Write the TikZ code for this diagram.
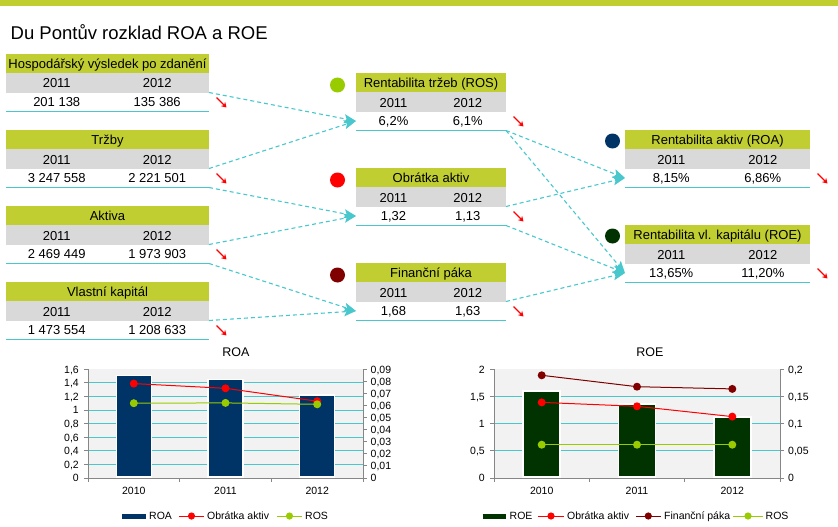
\documentclass[tikz,border=0pt]{standalone}
\usepackage{fontspec}
\setmainfont{Liberation Sans}
\usetikzlibrary{arrows.meta}
\definecolor{olivebar}{RGB}{192,206,50}
\definecolor{grayrow}{RGB}{217,217,217}
\definecolor{cyanl}{RGB}{72,200,205}
\definecolor{navyc}{RGB}{0,51,102}
\definecolor{dgreen}{RGB}{0,51,0}
\definecolor{dred}{RGB}{128,0,0}
\definecolor{limec}{RGB}{153,204,0}
\definecolor{plotbg}{RGB}{242,242,242}
\definecolor{axisgray}{RGB}{134,134,134}
\newcommand{\tabfont}{\fontsize{13}{15}\selectfont}
\newcommand{\chartfont}{\fontsize{10.5}{12}\selectfont}
\tikzset{
  hdrbox/.style={fill=olivebar, minimum height=19pt, inner sep=0pt, outer sep=0pt, anchor=north west},
  yrbox/.style={fill=grayrow, minimum height=19.5pt, inner sep=0pt, outer sep=0pt, anchor=north west},
  valbox/.style={minimum height=19pt, inner sep=0pt, outer sep=0pt, anchor=north west},
  rowline/.style={draw=cyanl, line width=1.2pt},
  ctext/.style={font=\tabfont, inner sep=0pt, anchor=base, text=black},
  downarrow/.style={draw=red, line width=1.2pt, -{Stealth[length=5pt,width=6pt]}},
  conn/.style={draw=cyanl, line width=1.1pt, dash pattern=on 4pt off 3pt, -{Stealth[length=12pt,width=9pt,inset=2.5pt]}},
  dot/.style={circle, inner sep=0pt, minimum size=15pt},
  grid/.style={draw=cyanl, line width=1pt},
  axisl/.style={draw=axisgray, line width=1pt},
  albl/.style={font=\chartfont, inner sep=0pt, text=black},
  barroa/.style={fill=navyc, draw=white, line width=1.5pt},
  barroe/.style={fill=dgreen, draw=white, line width=1.5pt},
  sline/.style={line width=1pt},
}
% #1 name, #2 x-left, #3 width, #4 y-top, #5 title, #6 value 2011, #7 value 2012
\newcommand{\ftab}[7]{%
  \node[hdrbox, minimum width=#3pt] (#1h) at (#2,#4) {};
  \node[yrbox, minimum width=#3pt] (#1y) at (#1h.south west) {};
  \node[valbox, minimum width=#3pt] (#1v) at (#1y.south west) {};
  \draw[rowline] (#1v.south west) -- (#1v.south east);
  \node[ctext] (#1t) at ({#2+#3/2},{#4+14.5}) {#5};
  \node[ctext] (#1ya) at ({#2+0.25*#3},{#4+34}) {2011};
  \node[ctext] (#1yb) at ({#2+0.745*#3},{#4+34}) {2012};
  \node[ctext] (#1va) at ({#2+0.25*#3},{#4+52.7}) {#6};
  \node[ctext] (#1vb) at ({#2+0.745*#3},{#4+52.7}) {#7};
  \coordinate (#1as) at ({#2+#3+7.5},{#4+43.5});
  \coordinate (#1ae) at ({#2+#3+17.5},{#4+53.5});
  \draw[downarrow] (#1as) -- (#1ae);
}
\begin{document}
\begin{tikzpicture}[x=1pt,y=-1pt]
\useasboundingbox (0,0) rectangle (838,527);
\fill[white] (0,0) rectangle (838,527);
\fill[olivebar] (0,0) rectangle (838,6.5);
\node[font=\fontsize{18.5}{22}\selectfont, inner sep=0pt, anchor=base west] (title) at (10.5,40) {Du Pontův rozklad ROA a ROE};

% left tables
\ftab{hv}{6}{203}{54}{Hospodářský výsledek po zdanění}{201 138}{135 386}
\ftab{trz}{6}{203}{130}{Tržby}{3 247 558}{2 221 501}
\ftab{akt}{6}{203}{206}{Aktiva}{2 469 449}{1 973 903}
\ftab{vk}{6}{203}{282}{Vlastní kapitál}{1 473 554}{1 208 633}
% middle tables
\ftab{ros}{356}{150}{73}{Rentabilita tržeb (ROS)}{6,2\%}{6,1\%}
\ftab{obr}{356}{150}{168}{Obrátka aktiv}{1,32}{1,13}
\ftab{fin}{356}{150}{263}{Finanční páka}{1,68}{1,63}
% right tables
\ftab{roa}{625}{185}{130}{Rentabilita aktiv (ROA)}{8,15\%}{6,86\%}
\ftab{roe}{625}{185}{225}{Rentabilita vl. kapitálu (ROE)}{13,65\%}{11,20\%}

% colour dots
\node[dot, fill=limec] (dros) at (337.5,85) {};
\node[dot, fill=red] (dobr) at (337.5,180) {};
\node[dot, fill=dred] (dfin) at (337.5,275) {};
\node[dot, fill=navyc] (droa) at (612.5,141) {};
\node[dot, fill=dgreen] (droe) at (612.5,236) {};

% connectors
\draw[conn] (hvv.north east) -- (rosv.west);
\draw[conn] (trzv.north east) -- (rosv.west);
\draw[conn] (trzv.south east) -- (obrv.west);
\draw[conn] (aktv.north east) -- (obrv.west);
\draw[conn] (aktv.south east) -- (finv.west);
\draw[conn] (vkv.north east) -- (finv.west);
\draw[conn] (rosv.south east) -- (roav.west);
\draw[conn] (rosv.south east) -- (roev.west);
\draw[conn] (obrv.north east) -- (roav.west);
\draw[conn] (obrv.south east) -- (roev.west);
\draw[conn] (finv.north east) -- (roev.west);

% ================= ROA chart =================
\node[font=\fontsize{12.5}{14}\selectfont, inner sep=0pt, anchor=base] (roatitle) at (236,356) {ROA};
\fill[plotbg] (88,369.3) rectangle (363,478);
\foreach \k in {1,...,7} \draw[grid] (88,{478-\k*13.5875}) -- (363,{478-\k*13.5875});
\foreach \k/\l in {0/0,1/{0,2},2/{0,4},3/{0,6},4/{0,8},5/1,6/{1,2},7/{1,4},8/{1,6}} {
  \draw[axisl] (84,{478-\k*13.5875}) -- (88,{478-\k*13.5875});
  \node[albl, anchor=base east] at (79,{478-\k*13.5875+3.8}) {\l};
}
\foreach \k/\l in {0/0,1/{0,01},2/{0,02},3/{0,03},4/{0,04},5/{0,05},6/{0,06},7/{0,07},8/{0,08},9/{0,09}} {
  \draw[axisl] (363,{478-\k*12.0778}) -- (367,{478-\k*12.0778});
  \node[albl, anchor=base west] at (370.5,{478-\k*12.0778+3.8}) {\l};
}
\foreach \cx/\v in {133.8/375.3, 225.5/379.6, 317.2/395.1}
  \draw[barroa] ({\cx-17.5},477.2) rectangle ({\cx+17.5},\v);
\draw[axisl] (88,369.3) -- (88,478) -- (363,478) -- (363,369.3);
\foreach \x in {88,179.7,271.3,363} \draw[axisl] (\x,478) -- (\x,482);
\foreach \cx/\l in {133.8/2010, 225.5/2011, 317.2/2012}
  \node[albl, anchor=base] at (\cx,494) {\l};
\coordinate (aO1) at (133.8,383.6);
\coordinate (aO2) at (225.5,388.3);
\coordinate (aO3) at (317.2,401.2);
\coordinate (aS1) at (133.8,403.2);
\coordinate (aS2) at (225.5,402.9);
\coordinate (aS3) at (317.2,404.3);
\draw[sline, red] (aO1) -- (aO2) -- (aO3);
\draw[sline, limec] (aS1) -- (aS2) -- (aS3);
\foreach \p in {aO1,aO2,aO3} \fill[red] (\p) circle (4pt);
\foreach \p in {aS1,aS2,aS3} \fill[limec] (\p) circle (4pt);
% legend
\draw[navyc, line width=5pt] (122,516) -- (146,516);
\node[albl, anchor=base west] (lroa) at (149,519.8) {ROA};
\draw[sline, red] (179,516) -- (204,516);
\fill[red] (191.5,516) circle (3.6pt);
\node[albl, anchor=base west] (lobr) at (207,519.8) {Obrátka aktiv};
\draw[sline, limec] (277,516) -- (302,516);
\fill[limec] (289.5,516) circle (3.6pt);
\node[albl, anchor=base west] (lros) at (305,519.8) {ROS};

% ================= ROE chart =================
\node[font=\fontsize{12.5}{14}\selectfont, inner sep=0pt, anchor=base] (roetitle) at (650,356) {ROE};
\fill[plotbg] (494,369.3) rectangle (780,478);
\foreach \k in {1,2,3} \draw[grid] (494,{478-\k*27.175}) -- (780,{478-\k*27.175});
\foreach \k/\l in {0/0,1/{0,5},2/1,3/{1,5},4/2} {
  \draw[axisl] (490,{478-\k*27.175}) -- (494,{478-\k*27.175});
  \node[albl, anchor=base east] at (485,{478-\k*27.175+3.8}) {\l};
}
\foreach \k/\l in {0/0,1/{0,05},2/{0,1},3/{0,15},4/{0,2}} {
  \draw[axisl] (780,{478-\k*27.175}) -- (784,{478-\k*27.175});
  \node[albl, anchor=base west] at (788,{478-\k*27.175+3.8}) {\l};
}
\foreach \cx/\v in {541.7/391, 637/403.8, 732.3/417.1}
  \draw[barroe] ({\cx-18.5},477.2) rectangle ({\cx+18.5},\v);
\draw[axisl] (494,369.3) -- (494,478) -- (780,478) -- (780,369.3);
\foreach \x in {494,589.3,684.7,780} \draw[axisl] (\x,478) -- (\x,482);
\foreach \cx/\l in {541.7/2010, 637/2011, 732.3/2012}
  \node[albl, anchor=base] at (\cx,494) {\l};
\coordinate (eF1) at (541.7,375.3);
\coordinate (eF2) at (637,386.7);
\coordinate (eF3) at (732.3,388.9);
\coordinate (eO1) at (541.7,402.4);
\coordinate (eO2) at (637,406.3);
\coordinate (eO3) at (732.3,416.6);
\coordinate (eS1) at (541.7,444.7);
\coordinate (eS2) at (637,444.7);
\coordinate (eS3) at (732.3,444.7);
\draw[sline, dred] (eF1) -- (eF2) -- (eF3);
\draw[sline, red] (eO1) -- (eO2) -- (eO3);
\draw[sline, limec] (eS1) -- (eS2) -- (eS3);
\foreach \p in {eF1,eF2,eF3} \fill[dred] (\p) circle (4pt);
\foreach \p in {eO1,eO2,eO3} \fill[red] (\p) circle (4pt);
\foreach \p in {eS1,eS2,eS3} \fill[limec] (\p) circle (4pt);
% legend
\draw[dgreen, line width=5pt] (482.7,516) -- (506,516);
\node[albl, anchor=base west] (lroe) at (509.5,519.8) {ROE};
\draw[sline, red] (538.3,516) -- (564,516);
\fill[red] (551,516) circle (3.6pt);
\node[albl, anchor=base west] (lobr2) at (567,519.8) {Obrátka aktiv};
\draw[sline, dred] (636,516) -- (660.7,516);
\fill[dred] (648.3,516) circle (3.6pt);
\node[albl, anchor=base west] (lfin) at (664,519.8) {Finanční páka};
\draw[sline, limec] (733.3,516) -- (763.3,516);
\fill[limec] (748,516) circle (3.6pt);
\node[albl, anchor=base west] (lros2) at (765.5,519.8) {ROS};
\end{tikzpicture}
\end{document}
